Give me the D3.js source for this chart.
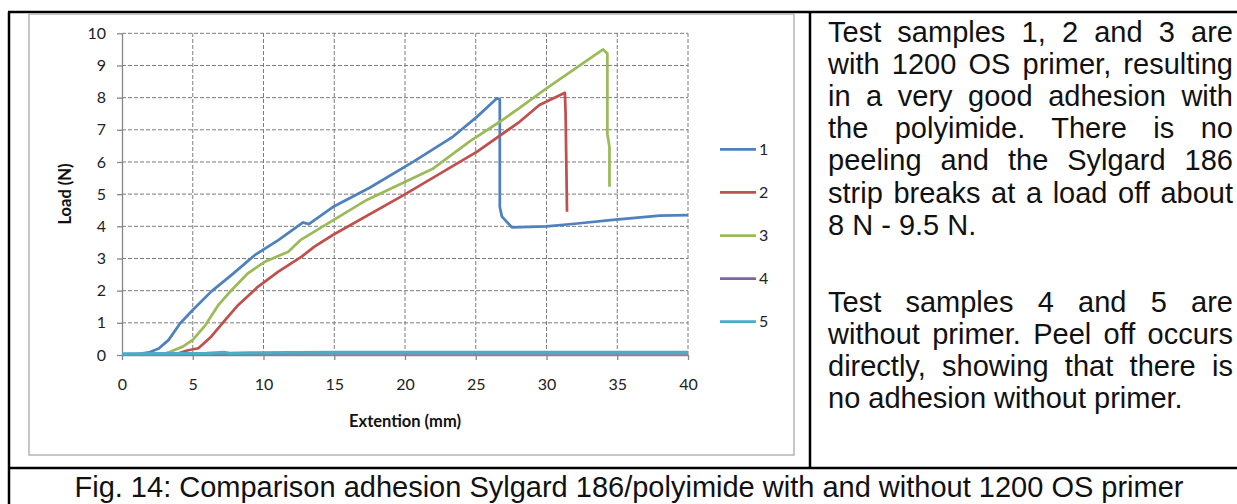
<!DOCTYPE html>
<html>
<head>
<meta charset="utf-8">
<script src="https://cdn.jsdelivr.net/npm/d3@7"></script>
<style>
  body { margin: 0; background: #fff; }
  #wrap { position: relative; width: 1237px; height: 504px; overflow: hidden; background: #fff; }
  #chart { position: absolute; left: 0; top: 0; }
  .note { position: absolute; left: 828px; width: 405px;
          font-family: "Liberation Sans", Arial, sans-serif; font-size: 29px;
          line-height: 32.2px; color: #111; }
  .note .j { text-align: justify; text-align-last: justify; }
  .mono { font-family: Lato, "Open Sans", sans-serif; }
</style>
</head>
<body>
<div id="wrap"><svg id="chart" width="1237" height="504"></svg></div>
<script>
/************************** DATA **************************/

var seriesNames = ["1", "2", "3", "4", "5"];
var seriesColors = ["#4f81bd", "#c0504d", "#9bbb59", "#8064a2", "#4bacc6"];
var xTicks = [0, 5, 10, 15, 20, 25, 30, 35, 40];
var yTicks = [0, 1, 2, 3, 4, 5, 6, 7, 8, 9, 10];

// [extention (mm), load (N)]
var load1 = [[1.0,0.02],[1.9,0.08],[2.6,0.2],[3.3,0.47],[4.1,0.98],[5.0,1.4],[6.3,1.97],
  [7.75,2.49],[9.4,3.11],[11.05,3.57],[12.4,4.0],[12.8,4.12],[13.2,4.07],[14.9,4.6],
  [17.5,5.2],[20.6,6.01],[23.4,6.79],[25.1,7.41],[26.5,7.98],[26.7,7.95],[26.7,4.6],
  [26.85,4.3],[27.55,3.97],[30.0,4.0],[32.0,4.08],[34.7,4.2],[38.0,4.33],[40.0,4.35]];
var load2 = [[3.9,0.04],[4.6,0.14],[5.4,0.21],[6.3,0.57],[7.3,1.09],[8.2,1.55],[9.6,2.12],
  [11.05,2.59],[12.7,3.06],[13.6,3.37],[14.9,3.73],[19.9,4.97],[25.1,6.32],[28.1,7.25],
  [29.5,7.77],[31.3,8.15],[31.35,7.5],[31.45,4.45]];
var load3 = [[3.0,0.04],[3.4,0.1],[4.3,0.26],[5.0,0.47],[5.9,0.93],[6.8,1.55],[7.75,2.02],
  [8.9,2.54],[10.1,2.9],[11.75,3.21],[12.6,3.57],[17.3,4.82],[22.0,5.8],[24.6,6.65],
  [26.7,7.25],[28.1,7.68],[30.0,8.29],[34.0,9.5],[34.3,9.37],[34.3,6.88],[34.45,6.47],
  [34.45,5.23]];
var load4 = [[0,0.01],[2,0.02],[5,0.02],[7.5,0.03],[10,0.04],[14,0.05],[20,0.05],
  [25,0.05],[30,0.05],[35,0.05],[40,0.05]];
var load5 = [[0,0.03],[3,0.04],[6,0.05],[7.2,0.08],[7.6,0.05],[9,0.06],[12,0.07],
  [15,0.08],[20,0.08],[25,0.08],[30,0.08],[35,0.08],[40,0.08]];

var xTitle = "Extention (mm)";
var yTitle = "Load (N)";

var notePara1 = ["Test samples 1, 2 and 3 are", "with 1200 OS primer, resulting",
  "in a very good adhesion with", "the polyimide. There is no",
  "peeling and the Sylgard 186", "strip breaks at a load off about", "8 N - 9.5 N."];
var notePara2 = ["Test samples 4 and 5 are", "without primer. Peel off occurs",
  "directly, showing that there is", "no adhesion without primer."];
var caption = "Fig. 14: Comparison adhesion Sylgard 186/polyimide with and without 1200 OS primer";

/************************** RENDER **************************/

var svg = d3.select("#chart");

// table lines round the cells
var tableLines = [[8, 12, 1237, 12], [9, 12, 9, 504], [810, 12, 810, 468], [8, 468, 1237, 468]];
svg.selectAll(".cell").data(tableLines).enter().append("line")
  .attr("x1", function(d) { return d[0]; }).attr("y1", function(d) { return d[1]; })
  .attr("x2", function(d) { return d[2]; }).attr("y2", function(d) { return d[3]; })
  .attr("stroke", "#000").attr("stroke-width", 2.5);

// excel chart frame
svg.append("rect")
  .attr("x", 29).attr("y", 14).attr("width", 765).attr("height", 441)
  .attr("fill", "#fff").attr("stroke", "#b4b4b4").attr("stroke-width", 1.5);

var x = d3.scaleLinear().domain([0, 40]).range([122, 688]);
var y = d3.scaleLinear().domain([0, 10]).range([355, 33.3]);

// dashed grid
var grid = svg.append("g").attr("stroke", "#7c7c7c").attr("stroke-width", 1)
  .attr("stroke-dasharray", "4,2");
grid.selectAll(".gh").data(yTicks.slice(1)).enter().append("line")
  .attr("x1", x(0)).attr("x2", x(40))
  .attr("y1", function(d) { return y(d); }).attr("y2", function(d) { return y(d); });
grid.selectAll(".gv").data(xTicks.slice(1)).enter().append("line")
  .attr("y1", y(0)).attr("y2", y(10))
  .attr("x1", function(d) { return x(d); }).attr("x2", function(d) { return x(d); });

// axes
var yAxis = svg.append("g").attr("class", "mono")
  .attr("transform", "translate(" + x(0) + ",0)")
  .call(d3.axisLeft(y).tickValues(yTicks).tickSize(5).tickSizeOuter(0).tickPadding(11));
var xAxis = svg.append("g").attr("class", "mono")
  .attr("transform", "translate(0," + y(0) + ")")
  .call(d3.axisBottom(x).tickValues(xTicks).tickSize(5).tickSizeOuter(0).tickPadding(19));

[yAxis, xAxis].forEach(function(a) {
  a.select(".domain").attr("stroke", "#868686").attr("stroke-width", 1.3);
  a.selectAll(".tick line").attr("stroke", "#868686").attr("stroke-width", 1.3);
  a.selectAll(".tick text").attr("fill", "#222").style("font-size", "16px")
    .style("font-family", "Lato, 'Open Sans', sans-serif");
});

// series
var line = d3.line()
  .x(function(d) { return x(d[0]); })
  .y(function(d) { return y(d[1]); });

var allLoads = [load1, load2, load3, load4, load5];
svg.selectAll(".series").data(allLoads).enter().append("path")
  .attr("d", line)
  .attr("fill", "none")
  .attr("stroke", function(d, i) { return seriesColors[i]; })
  .attr("stroke-width", function(d, i) { return i == 4 ? 3.5 : 2.75; })
  .attr("stroke-linejoin", "round");

// legend
var legend = svg.selectAll(".legend").data(seriesNames).enter().append("g")
  .attr("transform", function(d, i) { return "translate(720," + (149.3 + i * 43.1) + ")"; });
legend.append("line")
  .attr("x1", 0).attr("x2", 36)
  .attr("stroke", function(d, i) { return seriesColors[i]; })
  .attr("stroke-width", 2.75);
legend.append("text")
  .attr("class", "mono")
  .attr("x", 39).attr("dy", "0.35em")
  .style("font-size", "16px").attr("fill", "#222")
  .text(function(d) { return d; });

// axis titles
svg.append("text").attr("class", "mono")
  .attr("transform", "translate(65,194) rotate(-90)")
  .attr("text-anchor", "middle").attr("dy", "0.35em")
  .style("font-size", "16.5px").style("font-weight", "bold").attr("fill", "#111")
  .text(yTitle);
svg.append("text").attr("class", "mono")
  .attr("x", 405).attr("y", 421.7).attr("dy", "0.35em")
  .attr("text-anchor", "middle")
  .style("font-size", "16.5px").style("font-weight", "bold").attr("fill", "#111")
  .text(xTitle);

// caption
svg.append("text")
  .attr("x", 629).attr("y", 486.7).attr("dy", "0.35em")
  .attr("text-anchor", "middle")
  .style("font-family", "'Liberation Sans', Arial, sans-serif").style("font-size", "29px")
  .attr("fill", "#111")
  .text(caption);

// text cell, justified line by line as in the document
function addNote(lines, top) {
  var box = d3.select("#wrap").append("div").attr("class", "note").style("top", top + "px");
  box.selectAll("div").data(lines).enter().append("div")
    .attr("class", function(d, i) { return i < lines.length - 1 ? "j" : null; })
    .text(function(d) { return d; });
}
addNote(notePara1, 15.6);
addNote(notePara2, 285.6);
</script>
</body>
</html>
